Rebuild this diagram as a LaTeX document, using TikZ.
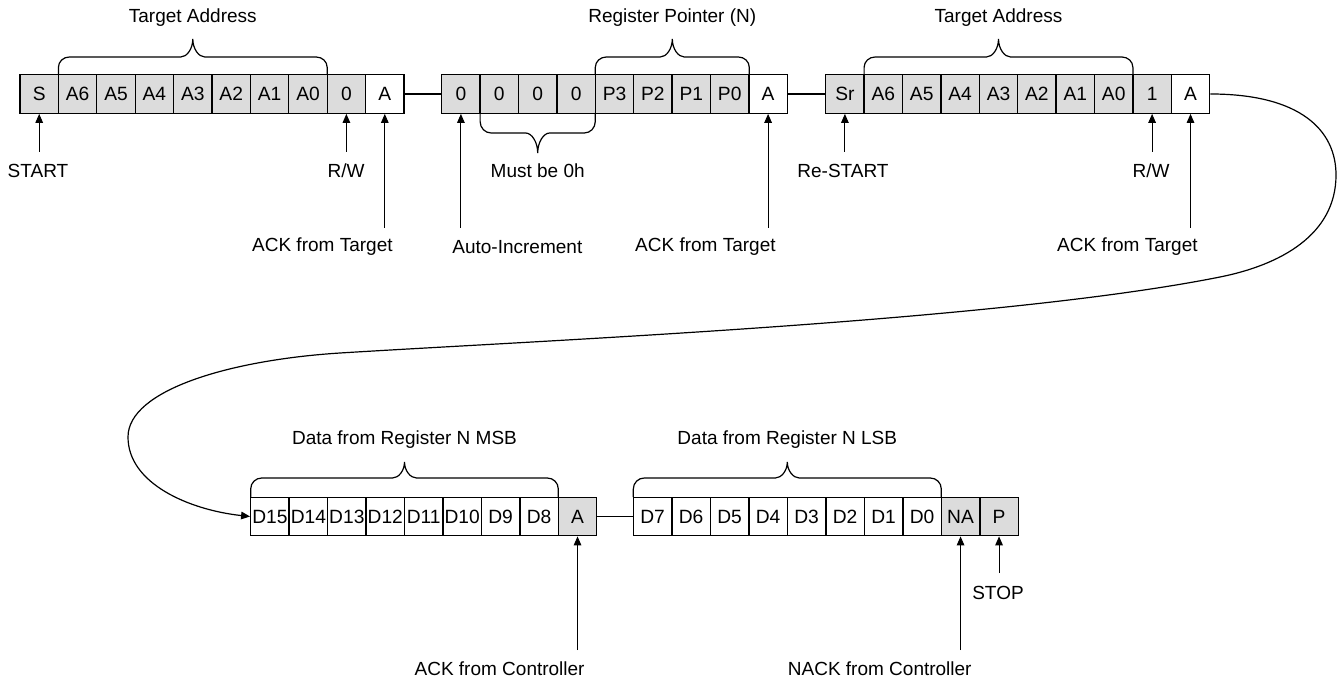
\documentclass[tikz,border=0pt]{standalone}
\usepackage{fontspec}
\setmainfont{Liberation Sans}
\usetikzlibrary{arrows.meta}
\definecolor{bitgray}{RGB}{220,220,220}
\tikzset{
  bit/.style={draw, line width=0.65pt, minimum width=19.2pt, minimum height=19.25pt, inner sep=0pt, font=\fontsize{9.6}{11}\selectfont},
  gbit/.style={bit, fill=bitgray},
  wbit/.style={bit, fill=white},
  lbl/.style={inner sep=0pt, font=\fontsize{9.5}{11}\selectfont},
  arr/.style={line width=0.5pt, -{Triangle[length=4.5pt,width=3.8pt]}},
  link/.style={line width=0.6pt},
  brc/.style={line width=0.6pt},
}
% #1 left x, #2 right x, #3 base y, #4 horizontal y, #5 tip y
\newcommand{\bitbrace}[5]{%
  \draw[brc] (#1,#3) -- (#1,{#4+(#3-#4)*0.58})
    .. controls (#1,{#4+(#3-#4)*0.25}) and ({#1+5},#4) .. ({#1+11},#4)
    -- ({(#1+#2)/2-12},#4)
    .. controls ({(#1+#2)/2-6},#4) and ({(#1+#2)/2},{#4+(#5-#4)*0.45}) .. ({(#1+#2)/2},#5)
    .. controls ({(#1+#2)/2},{#4+(#5-#4)*0.45}) and ({(#1+#2)/2+6},#4) .. ({(#1+#2)/2+12},#4)
    -- ({#2-11},#4)
    .. controls ({#2-5},#4) and (#2,{#4+(#3-#4)*0.25}) .. (#2,{#4+(#3-#4)*0.58})
    -- (#2,#3);}
\begin{document}
\begin{tikzpicture}[x={(0.5pt,0)}, y={(0,-0.5pt)}]
\useasboundingbox (0,0) rectangle (1338,679);

% ---- frame 1
\foreach \t [count=\i] in {S,A6,A5,A4,A3,A2,A1,A0,0}
  \node[gbit] (a\i) at ({20+(\i-0.5)*38.4},94) {\t};
\node[wbit] (a10) at ({20+9.5*38.4},94) {A};

% ---- frame 2
\foreach \t [count=\i] in {0,0,0,0,P3,P2,P1,P0}
  \node[gbit] (b\i) at ({441.7+(\i-0.5)*38.4},94) {\t};
\node[wbit] (b9) at ({441.7+8.5*38.4},94) {A};

% ---- frame 3
\foreach \t [count=\i] in {Sr,A6,A5,A4,A3,A2,A1,A0,1}
  \node[gbit] (c\i) at ({825.7+(\i-0.5)*38.4},94) {\t};
\node[wbit] (c10) at ({825.7+9.5*38.4},94) {A};

% ---- frame 4
\foreach \t [count=\i] in {D15,D14,D13,D12,D11,D10,D9,D8}
  \node[wbit] (d\i) at ({250.7+(\i-0.5)*38.45},516.5) {\t};
\node[gbit] (d9) at ({250.7+8.5*38.45},516.5) {A};

% ---- frame 5
\foreach \t [count=\i] in {D7,D6,D5,D4,D3,D2,D1,D0}
  \node[wbit] (e\i) at ({633.3+(\i-0.5)*38.5},516.5) {\t};
\node[gbit] (e9) at ({633.3+8.5*38.5},516.5) {NA};
\node[gbit] (e10) at ({633.3+9.5*38.5},516.5) {P};

% ---- links between frames
\draw[link] (a10.east) -- (b1.west);
\draw[link] (b9.east) -- (c1.west);
\draw[link] (d9.east) -- (e1.west);
\draw[arr, line width=0.6pt] (c10.east) .. controls (1300,94) and (1336,130) .. (1336,175)
  .. controls (1336,235) and (1280,265) .. (1220,277)
  .. controls (1000,321) and (550,340) .. (340,353)
  .. controls (230,360) and (128,390) .. (128,437)
  .. controls (128,484) and (190,510) .. (d1.west);

% ---- braces
\bitbrace{58.4}{327.2}{75}{57}{39}
\node[lbl] (tBr1) at (192.8,18) {Target Address};
\bitbrace{595.3}{749.3}{75}{57}{39}
\node[lbl] (tBr2) at (672.3,18) {Register Pointer (N)};
\bitbrace{864.1}{1132.9}{75}{57}{39}
\node[lbl] (tBr3) at (998.5,18) {Target Address};
\bitbrace{480.1}{595.3}{113}{133}{153}
\node[lbl] (tZero) at (537.7,171) {Must be 0h};
\bitbrace{250.7}{558.3}{497}{478}{462}
\node[lbl] (tMSB) at (404.5,440) {Data from Register N MSB};
\bitbrace{633.3}{941.3}{497}{478}{462}
\node[lbl] (tLSB) at (787.3,440) {Data from Register N LSB};

% ---- pointer arrows and labels
\coordinate (pS) at (a1.south |- 0,152);
\draw[arr] (pS) -- (a1.south);
\node[lbl] (lS) at (38,171) {START};
\coordinate (pRW1) at (a9.south |- 0,152);
\draw[arr] (pRW1) -- (a9.south);
\node[lbl] (lRW1) at (346,171) {R/W};
\coordinate (pA1) at (a10.south |- 0,228);
\draw[arr] (pA1) -- (a10.south);
\node[lbl, anchor=east] (lA1) at (393,247) {ACK from Target};

\coordinate (pAI) at (b1.south |- 0,228);
\draw[arr] (pAI) -- (b1.south);
\node[lbl, anchor=west] (lAI) at (452,247) {Auto-Increment};
\coordinate (pA2) at (b9.south |- 0,228);
\draw[arr] (pA2) -- (b9.south);
\node[lbl, anchor=east] (lA2) at (776,247) {ACK from Target};

\coordinate (pSr) at (c1.south |- 0,152);
\draw[arr] (pSr) -- (c1.south);
\node[lbl] (lSr) at (843,171) {Re-START};
\coordinate (pRW2) at (c9.south |- 0,152);
\draw[arr] (pRW2) -- (c9.south);
\node[lbl] (lRW2) at (1151,171) {R/W};
\coordinate (pA3) at (c10.south |- 0,228);
\draw[arr] (pA3) -- (c10.south);
\node[lbl, anchor=east] (lA3) at (1198,247) {ACK from Target};

\coordinate (pAC) at (d9.south |- 0,650);
\draw[arr] (pAC) -- (d9.south);
\node[lbl, anchor=east] (lAC) at (585,669) {ACK from Controller};
\coordinate (pNA) at (e9.south |- 0,650);
\draw[arr] (pNA) -- (e9.south);
\node[lbl, anchor=east] (lNA) at (972,669) {NACK from Controller};
\coordinate (pP) at (e10.south |- 0,573);
\draw[arr] (pP) -- (e10.south);
\node[lbl] (lP) at (998,593) {STOP};
\end{tikzpicture}
\end{document}
